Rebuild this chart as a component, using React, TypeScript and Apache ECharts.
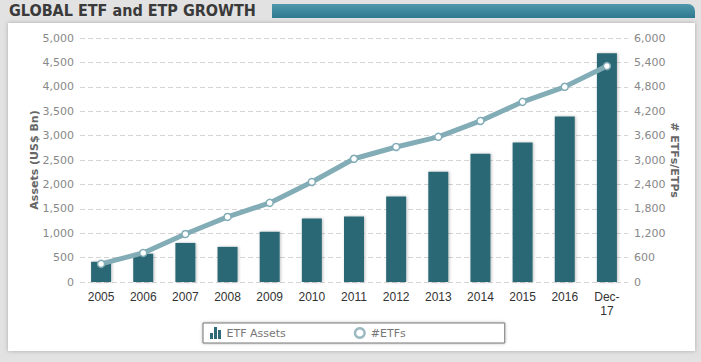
import React, { useEffect, useRef } from "react";
import * as echarts from "echarts";

const categories = ["2005", "2006", "2007", "2008", "2009", "2010", "2011", "2012", "2013", "2014", "2015", "2016", "Dec-\n17"];
const etfAssets = [415, 580, 800, 720, 1030, 1300, 1340, 1750, 2260, 2630, 2860, 3390, 4690];
const etfCount = [445, 715, 1180, 1600, 1945, 2460, 3030, 3320, 3570, 3960, 4430, 4800, 5310];
const leftTicks = { min: 0, max: 5000, interval: 500 };
const rightTicks = { min: 0, max: 6000, interval: 600 };

export default function App() {
  const ref = useRef<HTMLDivElement>(null);
  useEffect(() => {
    if (!ref.current) return;
    const chart = echarts.init(ref.current, null, { renderer: "svg" });
    chart.setOption({
      animation: false,
      backgroundColor: "#ffffff",
      graphic: [
        { type: "rect", shape: { x: 0, y: 0, width: 701, height: 362 }, style: { fill: "#e2e2e2" }, z: -10 },
        { type: "rect", shape: { x: 8, y: 23, width: 687, height: 328 }, style: { fill: "#ffffff", shadowBlur: 4, shadowColor: "rgba(0,0,0,0.25)" }, z: -9 },
        {
          type: "rect",
          shape: { x: 272, y: 4, width: 423, height: 14, r: [0, 7, 0, 0] },
          style: {
            fill: new echarts.graphic.LinearGradient(0, 0, 0, 1, [
              { offset: 0, color: "#4f97ab" },
              { offset: 1, color: "#2f7a8f" },
            ]),
          },
          z: -8,
        },
        {
          type: "text",
          left: 9,
          top: 2,
          style: { text: "GLOBAL ETF and ETP GROWTH", fill: "#3a3a3a", font: "bold 16px 'DejaVu Sans Condensed', 'DejaVu Sans', sans-serif" },
          z: 10,
        },
      ],
      legend: {
        left: 203,
        top: 323,
        padding: [4, 99, 4, 7],
        itemGap: 68,
        itemWidth: 12,
        itemHeight: 12,
        borderColor: "#777",
        borderWidth: 1,
        backgroundColor: "#fff",
        shadowBlur: 3,
        shadowColor: "rgba(0,0,0,0.3)",
        textStyle: { color: "#777", fontSize: 11, fontFamily: "'DejaVu Sans', Verdana, sans-serif" },
        data: [
          { name: "ETF Assets", icon: "path://M0,6h3v6h-3z M4,0h3v12h-3z M8,3h3v9h-3z", itemStyle: { color: "#2e6a77" } },
          {
            name: "#ETFs",
            icon: "path://M6,1A5,5,0,1,1,5.99,1z M6,3A3,3,0,1,0,6.01,3z",
            itemStyle: { color: "#9bb9c1", borderWidth: 0 },
            lineStyle: { opacity: 0 },
          },
        ],
      },
      grid: { left: 80, right: 73, top: 38, bottom: 80 },
      xAxis: {
        type: "category",
        data: categories,
        axisLine: { show: false },
        axisTick: { show: false },
        axisLabel: { color: "#333", fontSize: 12, fontFamily: "'Liberation Sans', Arial, sans-serif", margin: 8, lineHeight: 14 },
      },
      yAxis: [
        {
          type: "value",
          ...leftTicks,
          name: "Assets (US$ Bn)",
          nameLocation: "middle",
          nameGap: 40,
          nameRotate: 90,
          nameMoveOverlap: false,
          nameTextStyle: { color: "#666", fontSize: 11, fontWeight: "bold", fontFamily: "'DejaVu Sans', Verdana, sans-serif" },
          axisLine: { show: false },
          axisTick: { show: false },
          axisLabel: {
            color: "#888",
            fontSize: 11,
            fontFamily: "'DejaVu Sans', Verdana, sans-serif",
            margin: 6,
            formatter: (v: number) => v.toLocaleString("en-US"),
          },
          splitLine: { lineStyle: { color: "#d4d4d4", type: [5, 3] } },
        },
        {
          type: "value",
          ...rightTicks,
          name: "# ETFs/ETPs",
          nameLocation: "middle",
          nameGap: 41,
          nameRotate: -90,
          nameMoveOverlap: false,
          nameTextStyle: { color: "#666", fontSize: 11, fontWeight: "bold", fontFamily: "'DejaVu Sans', Verdana, sans-serif" },
          axisLine: { show: false },
          axisTick: { show: false },
          axisLabel: {
            color: "#888",
            fontSize: 11,
            fontFamily: "'DejaVu Sans', Verdana, sans-serif",
            margin: 6,
            formatter: (v: number) => v.toLocaleString("en-US"),
          },
          splitLine: { show: false },
        },
      ],
      series: [
        {
          name: "ETF Assets",
          type: "bar",
          data: etfAssets,
          barWidth: 20,
          itemStyle: { color: "#2c6875", shadowBlur: 3, shadowColor: "rgba(0,0,0,0.25)", shadowOffsetX: 1 },
        },
        {
          name: "#ETFs",
          type: "line",
          yAxisIndex: 1,
          data: etfCount,
          symbol: "circle",
          symbolSize: 7,
          lineStyle: { color: "#82acb6", width: 5 },
          itemStyle: { color: "#ffffff", borderColor: "#82acb6", borderWidth: 1.5 },
        },
      ],
    });
    return () => chart.dispose();
  }, []);
  return <div ref={ref} style={{ position: "fixed", left: 0, top: 0, width: 701, height: 362 }} />;
}
